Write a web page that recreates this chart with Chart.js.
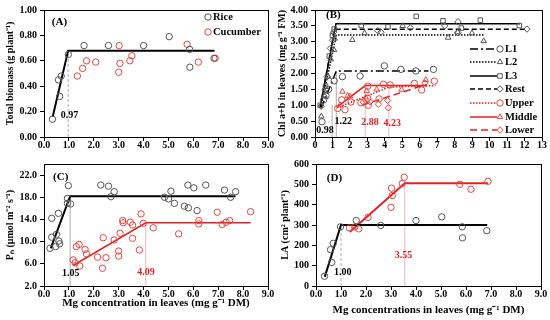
<!DOCTYPE html>
<html>
<head>
<meta charset="utf-8">
<script src="https://cdn.jsdelivr.net/npm/chart.js@4.4.0/dist/chart.umd.min.js"></script>
<style>
    html, body { margin: 0; padding: 0; background: #fff; }
    #wrap { position: relative; width: 550px; height: 320px; }
    canvas { position: absolute; }
</style>
</head>
<body>
<div id="wrap">
    <canvas id="chartA" width="275" height="155" style="left:0;top:0"></canvas>
    <canvas id="chartB" width="275" height="155" style="left:275px;top:0"></canvas>
    <canvas id="chartC" width="275" height="165" style="left:0;top:155px"></canvas>
    <canvas id="chartD" width="275" height="165" style="left:275px;top:155px"></canvas>
</div>
<script>
// ---- data ----
// (A) total biomass, (D) leaf area: same plants
const riceMg = [0.34, 0.58, 0.63, 0.69, 0.98, 1.61, 2.59, 4.00, 5.03, 5.85, 5.86, 6.83];
const riceBiomass = [0.14, 0.45, 0.32, 0.48, 0.65, 0.72, 0.72, 0.72, 0.79, 0.69, 0.55, 0.62];
const riceLA = [48, 179, 116, 210, 291, 322, 298, 322, 340, 291, 237, 272];
const cucMg = [1.34, 1.55, 1.71, 2.08, 3.00, 3.02, 3.05, 3.45, 3.53, 5.75, 6.20, 6.88];
const cucBiomass = [0.48, 0.54, 0.60, 0.59, 0.51, 0.72, 0.58, 0.60, 0.64, 0.73, 0.59, 0.62];
const cucLA = [286, 290, 281, 337, 387, 481, 445, 504, 535, 500, 476, 515];

const fitRiceBiomassX = [0.35, 0.97, 6.85];
const fitRiceBiomassY = [0.16, 0.68, 0.68];
const fitRiceLAX = [0.35, 1.00, 6.85];
const fitRiceLAY = [45, 300, 300];
const fitCucLAX = [1.35, 3.55, 6.88];
const fitCucLAY = [265, 505, 505];

// (B) chlorophyll by leaf position
const bL1X = [0.40, 0.50, 0.63, 0.78, 1.10, 1.57, 2.58, 3.97, 4.92, 5.78, 6.78];
const bL1Y = [0.48, 1.17, 1.30, 1.50, 1.77, 1.90, 1.92, 2.24, 2.13, 2.08, 2.13];
const bL2X = [0.36, 0.55, 0.75, 0.90, 1.09, 1.13, 2.14, 2.84, 5.02, 7.62, 8.17, 8.99, 9.66];
const bL2Y = [0.65, 1.30, 1.90, 2.45, 2.74, 3.10, 3.06, 3.27, 3.50, 3.13, 3.30, 3.27, 3.02];
const bL3X = [0.30, 0.60, 0.82, 1.00, 1.10, 2.65, 4.18, 5.80, 7.33, 8.38, 9.47, 11.70];
const bL3Y = [1.00, 1.60, 2.55, 3.20, 3.40, 3.51, 3.47, 3.80, 3.66, 3.43, 3.68, 3.51];
const bRestX = [0.35, 0.59, 0.69, 0.88, 1.01, 1.07, 3.59, 3.78, 5.46, 7.43, 8.19, 8.17, 12.14];
const bRestY = [0.97, 1.50, 1.90, 2.79, 3.05, 3.30, 3.35, 3.30, 3.44, 3.50, 3.63, 3.29, 3.40];
const bUpperX = [1.30, 1.53, 1.72, 2.06, 2.63, 3.02, 3.05, 3.02, 3.67, 3.92, 4.30, 5.69, 6.11, 6.83];
const bUpperY = [0.90, 1.17, 0.86, 1.10, 1.08, 1.22, 1.00, 1.60, 1.20, 1.66, 1.64, 1.69, 1.48, 1.76];
const bMiddleX = [1.43, 1.57, 1.87, 2.00, 2.90, 2.96, 3.53, 4.96, 6.34];
const bMiddleY = [1.00, 1.43, 1.30, 1.28, 1.25, 1.45, 1.50, 1.49, 1.80];
const bLowerX = [2.77, 3.15, 3.63, 4.16, 4.20, 6.30];
const bLowerY = [1.10, 1.11, 1.03, 1.15, 0.92, 1.70];

const fitL1X = [0.35, 1.22, 6.50],  fitL1Y = [0.90, 2.08, 2.08];
const fitL2X = [0.35, 1.22, 9.66],  fitL2Y = [0.95, 3.21, 3.21];
const fitL3X = [0.30, 1.20, 11.75], fitL3Y = [0.95, 3.57, 3.57];
const fitRestX = [0.30, 1.12, 12.05], fitRestY = [0.95, 3.39, 3.39];
const fitUpperX = [1.25, 4.23, 6.90], fitUpperY = [0.92, 1.57, 1.62];
const fitMiddleX = [1.25, 2.88, 6.40], fitMiddleY = [0.94, 1.62, 1.62];
const fitLowerX = [2.70, 6.40], fitLowerY = [1.00, 1.66];

// (C) net photosynthesis
const ricePnX = [0.24, 0.31, 0.31, 0.47, 0.50, 0.60, 0.63, 0.58, 0.94, 0.98, 0.94, 1.07, 2.28, 2.59, 2.69, 2.82,
                 4.84, 5.00, 5.10, 5.24, 5.64, 5.78, 5.80, 6.02, 6.15, 6.50, 7.25, 7.50, 7.70];
const ricePnY = [8.8, 14.2, 10.8, 9.1, 11.3, 10.1, 9.6, 15.1, 17.8, 20.1, 16.9, 16.8, 20.2, 20.0, 18.1, 19.0,
                 18.0, 17.7, 19.1, 16.9, 16.4, 20.2, 16.1, 19.7, 15.6, 20.2, 19.3, 18.0, 19.0];
const cucPnX = [1.17, 1.25, 1.30, 1.41, 1.44, 1.65, 1.71, 2.15, 2.38, 2.35, 2.49, 2.82, 3.00, 3.00, 3.06, 3.16,
                3.18, 3.47, 3.56, 3.56, 3.83, 3.90, 3.99, 4.39, 5.41, 6.22, 6.22, 6.96, 7.16, 7.32, 7.46, 8.30];
const cucPnY = [6.7, 6.2, 9.1, 9.5, 5.6, 8.6, 7.8, 7.2, 10.7, 5.2, 7.1, 10.3, 8.3, 7.4, 11.5, 13.8,
                13.4, 13.5, 13.0, 10.6, 8.5, 15.0, 13.3, 12.5, 11.4, 13.8, 13.2, 15.3, 13.1, 13.5, 13.8, 15.4];
const fitRicePnX = [0.27, 1.05, 7.70], fitRicePnY = [8.8, 18.2, 18.2];
const fitCucPnX = [1.17, 4.09, 8.30], fitCucPnY = [5.7, 13.4, 13.4];

// breakpoints
const breakA = [0.97];
const breakB = [0.98, 1.22, 2.88, 4.23];
const breakC = [1.05, 4.09];
const breakD = [1.00, 3.55];

// tick labels
const xTicks9 = [0, 1, 2, 3, 4, 5, 6, 7, 8, 9];
const xTicks13 = [0, 1, 2, 3, 4, 5, 6, 7, 8, 9, 10, 11, 12, 13];
const yTicksA = [0, 0.2, 0.4, 0.6, 0.8, 1.0];
const yTicksB = [0, 0.5, 1.0, 1.5, 2.0, 2.5, 3.0, 3.5, 4.0];
const yTicksC = [2, 6, 10, 14, 18, 22];
const yTicksD = [0, 100, 200, 300, 400, 500, 600];

// ---- styling helpers ----
const SERIF = '"Liberation Serif", "Times New Roman", serif';
const BLACK_PT = '#555555';
const RED_PT = '#e8453c';
const RED_LINE = '#e32222';
const GREY_GUIDE = '#9a9a9a';
const RED_GUIDE = '#f2a0a0';

const toPoints = (xs, ys) => xs.map((x, i) => ({ x: x, y: ys[i] }));

function markers(label, xs, ys, color, style) {
    return {
        label: label, data: toPoints(xs, ys), showLine: false,
        pointStyle: style, pointRadius: 3.2, pointBorderWidth: 1,
        pointBorderColor: color, borderColor: color, pointBackgroundColor: 'rgba(0,0,0,0)'
    };
}

function fitLine(xs, ys, color, width, dash) {
    return {
        data: toPoints(xs, ys), showLine: true, pointRadius: 0,
        borderColor: color, borderWidth: width, borderDash: dash || [], tension: 0, fill: false
    };
}

function guide(x, bottom, top, color, dash) {
    return fitLine([x, x], [bottom, top], color, 0.8, dash);
}

function buildScales(p) {
    const tickFont = { family: SERIF, size: 10, weight: 'bold' };
    const titleFont = { family: SERIF, size: 11, weight: 'bold' };
    return {
        x: {
            type: 'linear', min: p.xTicks[0], max: p.xTicks[p.xTicks.length - 1],
            afterBuildTicks: s => { s.ticks = p.xTicks.map(v => ({ value: v })); },
            afterFit: s => { s.height = p.xHeight; },
            grid: { drawOnChartArea: false, color: '#000', tickLength: 4 },
            border: { display: false },
            ticks: { autoSkip: false, maxRotation: 0, padding: -2, color: '#000', font: tickFont, callback: v => p.xFmt(v) },
            title: { display: !!p.xTitle, text: p.xTitle || '', color: '#000', font: titleFont, padding: 0 }
        },
        y: {
            type: 'linear', min: p.yTicks[0], max: p.yMax,
            afterBuildTicks: s => { s.ticks = p.yTicks.map(v => ({ value: v })); },
            afterFit: s => { s.width = p.yWidth; },
            grid: { drawOnChartArea: false, color: '#000', tickLength: 4 },
            border: { display: false },
            ticks: { autoSkip: false, padding: 3, color: '#000', font: tickFont, callback: v => p.yFmt(v) },
            title: { display: true, text: p.yTitle, color: '#000', font: { family: SERIF, size: 10, weight: 'bold' }, padding: 0 }
        }
    };
}

// frame round the plot area
const boxPlugin = {
    id: 'box',
    afterDraw(chart) {
        const a = chart.chartArea, ctx = chart.ctx;
        ctx.save();
        ctx.strokeStyle = '#000';
        ctx.lineWidth = 1;
        ctx.strokeRect(Math.round(a.left) + 0.5, Math.round(a.top) + 0.5, Math.round(a.width), Math.round(a.height));
        ctx.restore();
    }
};

// panel letter, breakpoint values and hand-placed legend
const notesPlugin = {
    id: 'notes',
    afterDatasetsDraw(chart, args, opts) {
        const ctx = chart.ctx, xs = chart.scales.x, ys = chart.scales.y;
        (opts.texts || []).forEach(t => {
            ctx.save();
            ctx.font = 'bold ' + (t.size || 10) + 'px ' + SERIF;
            ctx.fillStyle = t.color || '#000';
            ctx.textAlign = 'center';
            ctx.textBaseline = 'middle';
            ctx.fillText(t.text, xs.getPixelForValue(t.x), ys.getPixelForValue(t.y));
            ctx.restore();
        });
        (opts.legend || []).forEach(item => {
            const pt = chart.data.datasets[item.pt];
            ctx.save();
            if (item.line !== undefined) {
                const ln = chart.data.datasets[item.line];
                ctx.strokeStyle = ln.borderColor;
                ctx.lineWidth = ln.borderWidth;
                ctx.setLineDash(ln.borderDash);
                ctx.beginPath();
                ctx.moveTo(item.x0, item.y);
                ctx.lineTo(item.x - 3, item.y);
                ctx.stroke();
                ctx.setLineDash([]);
            }
            ctx.strokeStyle = pt.pointBorderColor;
            ctx.fillStyle = 'rgba(0,0,0,0)';
            ctx.lineWidth = 1;
            Chart.helpers.drawPoint(ctx, { pointStyle: pt.pointStyle, radius: 3.2, borderWidth: 1, rotation: 0 }, item.x, item.y);
            ctx.font = 'bold 10.5px ' + SERIF;
            ctx.fillStyle = '#000';
            ctx.textAlign = 'left';
            ctx.textBaseline = 'middle';
            ctx.fillText(item.text, item.x + 5, item.y);
            ctx.restore();
        });
    }
};

function makeChart(id, datasets, scaleOpts, padding, notes) {
    return new Chart(document.getElementById(id), {
        type: 'scatter',
        data: { datasets: datasets },
        options: {
            responsive: false,
            animation: false,
            layout: { padding: padding },
            scales: buildScales(scaleOpts),
            plugins: { legend: { display: false }, tooltip: { enabled: false }, notes: notes }
        },
        plugins: [boxPlugin, notesPlugin]
    });
}

const fmt1 = v => v.toFixed(1);
const fmt2 = v => v.toFixed(2);

// (A)
makeChart('chartA', [
    markers('Rice', riceMg, riceBiomass, BLACK_PT, 'circle'),
    markers('Cucumber', cucMg, cucBiomass, RED_PT, 'circle'),
    fitLine(fitRiceBiomassX, fitRiceBiomassY, '#000', 2),
    guide(breakA[0], 0, fitRiceBiomassY[1], GREY_GUIDE, [3, 2])
], {
    xTicks: xTicks9, xFmt: fmt1, xHeight: 18,
    yTicks: yTicksA, yMax: 1.0, yFmt: fmt2, yWidth: 40, yTitle: 'Total biomass (g plant⁻¹)'
}, { left: 4, top: 10, right: 7, bottom: 0 }, {
    texts: [
        { text: '(A)', x: 0.62, y: 0.905, size: 11 },
        { text: breakA[0].toFixed(2), x: 1.02, y: 0.17 }
    ],
    legend: [
        { pt: 0, x: 208, y: 17, text: 'Rice' },
        { pt: 1, x: 208, y: 32, text: 'Cucumber' }
    ]
});

// (B)
makeChart('chartB', [
    markers('L1', bL1X, bL1Y, BLACK_PT, 'circle'),
    markers('L2', bL2X, bL2Y, BLACK_PT, 'triangle'),
    markers('L3', bL3X, bL3Y, BLACK_PT, 'rect'),
    markers('Rest', bRestX, bRestY, BLACK_PT, 'rectRot'),
    markers('Upper', bUpperX, bUpperY, RED_PT, 'circle'),
    markers('Middle', bMiddleX, bMiddleY, RED_PT, 'triangle'),
    markers('Lower', bLowerX, bLowerY, RED_PT, 'rectRot'),
    fitLine(fitL1X, fitL1Y, '#000', 1.5, [8, 3, 2, 3]),
    fitLine(fitL2X, fitL2Y, '#000', 1.5, [1.5, 1.5]),
    fitLine(fitL3X, fitL3Y, '#000', 1.5),
    fitLine(fitRestX, fitRestY, '#000', 1.5, [5, 3]),
    fitLine(fitUpperX, fitUpperY, RED_LINE, 1.5, [1.5, 1.5]),
    fitLine(fitMiddleX, fitMiddleY, RED_LINE, 1.5),
    fitLine(fitLowerX, fitLowerY, RED_LINE, 1.5, [7, 4]),
    guide(breakB[0], 0, 1.0, GREY_GUIDE),
    guide(breakB[1], 0, fitL1Y[1], GREY_GUIDE),
    guide(breakB[2], 0, fitMiddleY[1], RED_GUIDE),
    guide(breakB[3], 0, fitUpperY[1], RED_GUIDE)
], {
    xTicks: xTicks13, xFmt: v => String(v), xHeight: 18,
    yTicks: yTicksB, yMax: 4.0, yFmt: fmt2, yWidth: 39, yTitle: 'Chl a+b in leaves (mg g⁻¹ FM)'
}, { left: 1, top: 10, right: 8, bottom: 0 }, {
    texts: [
        { text: '(B)', x: 1.05, y: 3.84, size: 11 },
        { text: breakB[0].toFixed(2), x: 0.57, y: 0.21 },
        { text: breakB[1].toFixed(2), x: 1.62, y: 0.5 },
        { text: breakB[2].toFixed(2), x: 3.15, y: 0.46, color: RED_LINE },
        { text: breakB[3].toFixed(2), x: 4.43, y: 0.42, color: RED_LINE }
    ],
    legend: [
        { pt: 0, line: 7, x0: 195, x: 225, y: 49, text: 'L1' },
        { pt: 1, line: 8, x0: 195, x: 225, y: 62, text: 'L2' },
        { pt: 2, line: 9, x0: 195, x: 225, y: 76, text: 'L3' },
        { pt: 3, line: 10, x0: 195, x: 225, y: 89, text: 'Rest' },
        { pt: 4, line: 11, x0: 195, x: 225, y: 103, text: 'Upper' },
        { pt: 5, line: 12, x0: 195, x: 225, y: 117, text: 'Middle' },
        { pt: 6, line: 13, x0: 195, x: 225, y: 130, text: 'Lower' }
    ]
});

// (C)
makeChart('chartC', [
    markers('Rice', ricePnX, ricePnY, BLACK_PT, 'circle'),
    markers('Cucumber', cucPnX, cucPnY, RED_PT, 'circle'),
    fitLine(fitRicePnX, fitRicePnY, '#000', 2),
    fitLine(fitCucPnX, fitCucPnY, RED_LINE, 1.5),
    guide(breakC[0], 2, fitRicePnY[1], GREY_GUIDE),
    guide(breakC[1], 2, fitCucPnY[1], RED_GUIDE)
], {
    xTicks: xTicks9, xFmt: fmt1, xHeight: 24, xTitle: 'Mg concentration in leaves (mg g⁻¹ DM)',
    yTicks: yTicksC, yMax: 24, yFmt: fmt1, yWidth: 40, yTitle: 'Pₙ (μmol m⁻² s⁻¹)'
}, { left: 4, top: 4, right: 7, bottom: 10 }, {
    texts: [
        { text: '(C)', x: 0.67, y: 21.7, size: 11 },
        { text: breakC[0].toFixed(2), x: 1.07, y: 4.2 },
        { text: breakC[1].toFixed(2), x: 4.1, y: 4.5, color: RED_LINE }
    ]
});

// (D)
makeChart('chartD', [
    markers('Rice', riceMg, riceLA, BLACK_PT, 'circle'),
    markers('Cucumber', cucMg, cucLA, RED_PT, 'circle'),
    fitLine(fitRiceLAX, fitRiceLAY, '#000', 2),
    fitLine(fitCucLAX, fitCucLAY, RED_LINE, 2),
    guide(breakD[0], 0, fitRiceLAY[1], GREY_GUIDE, [3, 2]),
    guide(breakD[1], 0, fitCucLAY[1], RED_GUIDE)
], {
    xTicks: xTicks9, xFmt: fmt1, xHeight: 31, xTitle: 'Mg concentrations in leaves (mg g⁻¹ DM)',
    yTicks: yTicksD, yMax: 600, yFmt: v => String(v), yWidth: 37, yTitle: 'LA (cm² plant⁻¹)'
}, { left: 4, top: 2, right: 9, bottom: 3 }, {
    texts: [
        { text: '(D)', x: 0.74, y: 530, size: 11 },
        { text: breakD[0].toFixed(2), x: 1.07, y: 66 },
        { text: breakD[1].toFixed(2), x: 3.5, y: 151, color: RED_LINE }
    ]
});
</script>
</body>
</html>
